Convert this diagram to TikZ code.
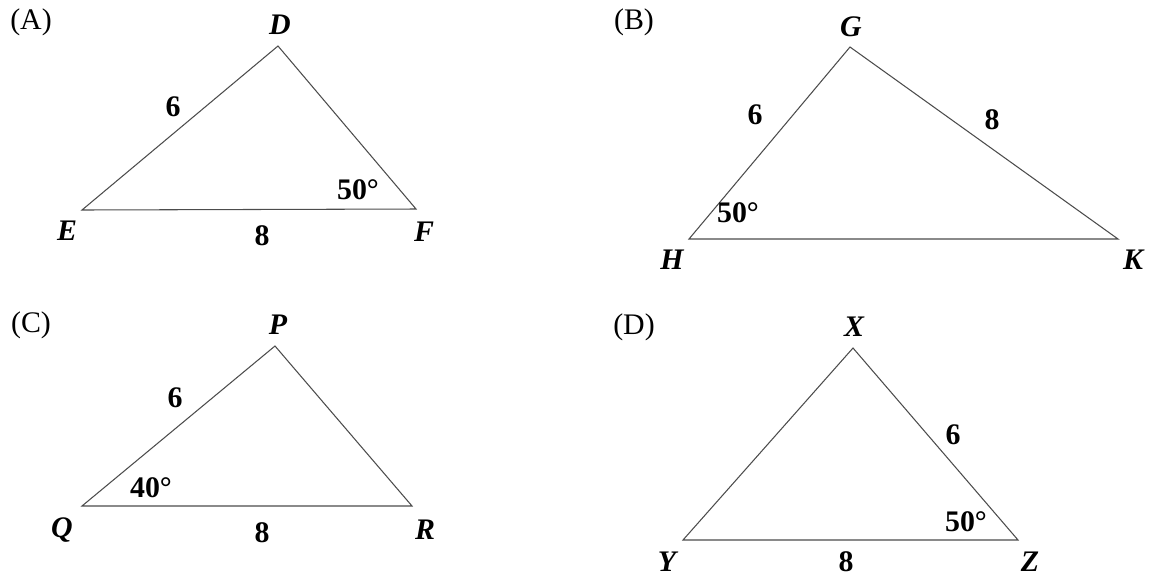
\documentclass[tikz,border=0pt]{standalone}
\usepackage{fontspec}
\setmainfont{Liberation Serif}
\usetikzlibrary{positioning}
\tikzset{
  lado/.style={draw=black!70, line width=0.6pt, line join=miter},
  vert/.style={font=\fontsize{17}{20}\selectfont\bfseries\itshape, inner sep=0pt},
  medida/.style={font=\fontsize{17}{20}\selectfont\bfseries, inner sep=0pt},
  inciso/.style={font=\fontsize{17}{20}\selectfont, inner sep=0pt},
}

\begin{document}
\begin{tikzpicture}[x=0.02cm, y=-0.02cm]
  \useasboundingbox (0,0) rectangle (1150,576);

  % (A)
  \coordinate (E) at (82,210);
  \coordinate (F) at (416,209);
  \coordinate (D) at (278,46);
  \draw[lado] (E) -- (F) -- (D) -- cycle;
  \node[inciso] (incA) at (31,22) {(A)};
  \node[vert] (lD) at (280,25) {D};
  \node[vert] (lE) at (67,231) {E};
  \node[vert] (lF) at (424,232) {F};
  \node[medida] (mDE) at (173,107) {6};
  \node[medida] (mEF) at (262,236) {8};
  \node[medida] (aF) at (358,190) {50°};

  % (B)
  \coordinate (H) at (689,239);
  \coordinate (K) at (1118,239);
  \coordinate (G) at (850,47);
  \draw[lado] (H) -- (K) -- (G) -- cycle;
  \node[inciso] (incB) at (634,22) {(B)};
  \node[vert] (lG) at (851,27) {G};
  \node[vert] (lH) at (672,260) {H};
  \node[vert] (lK) at (1133,260) {K};
  \node[medida] (mGH) at (755,115) {6};
  \node[medida] (mGK) at (992,120) {8};
  \node[medida] (aH) at (738,213) {50°};

  % (C)
  \coordinate (Q) at (82,506);
  \coordinate (R) at (412,506);
  \coordinate (P) at (275,346);
  \draw[lado] (Q) -- (R) -- (P) -- cycle;
  \node[inciso] (incC) at (31,325) {(C)};
  \node[vert] (lP) at (278,325) {P};
  \node[vert] (lQ) at (62,530) {Q};
  \node[vert] (lR) at (425,530) {R};
  \node[medida] (mPQ) at (175,398) {6};
  \node[medida] (mQR) at (262,533) {8};
  \node[medida] (aQ) at (151,488) {40°};

  % (D)
  \coordinate (Y) at (683,540);
  \coordinate (Z) at (1018,540);
  \coordinate (X) at (853,348);
  \draw[lado] (Y) -- (Z) -- (X) -- cycle;
  \node[inciso] (incD) at (634,327) {(D)};
  \node[vert] (lX) at (854,327) {X};
  \node[vert] (lY) at (667,562) {Y};
  \node[vert] (lZ) at (1030,562) {Z};
  \node[medida] (mXZ) at (953,435) {6};
  \node[medida] (mYZ) at (846,562) {8};
  \node[medida] (aZ) at (966,522) {50°};
\end{tikzpicture}
\end{document}
